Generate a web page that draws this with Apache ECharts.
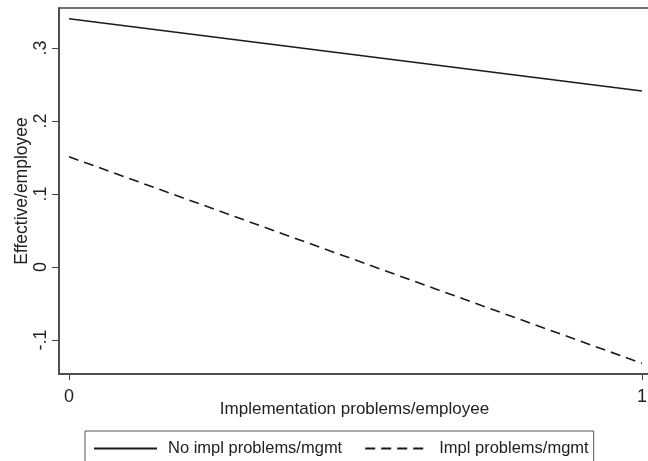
<!DOCTYPE html>
<html>
<head>
<meta charset="utf-8">
<script src="https://cdn.jsdelivr.net/npm/echarts@6/dist/echarts.min.js"></script>
<style>
  html, body { margin: 0; padding: 0; background: #fff; }
  #chart { width: 648px; height: 461px; }
</style>
</head>
<body>
<div id="chart"></div>
<script>
// x positions of the fitted lines
const xValues = [0, 1];
// series values
const noImplMgmt = [0.340, 0.241];
const implMgmt = [0.151, -0.132];
const seriesNames = ["No impl problems/mgmt", "Impl problems/mgmt"];
// tick labels
const yTicks = [-0.1, 0, 0.1, 0.2, 0.3];
const xTicks = [0, 1];

const fmtY = (v) => {
  if (Math.abs(v) < 1e-9) return "0";
  return (v < 0 ? "-" : "") + String(Math.abs(v).toFixed(1)).replace(/^0/, "");
};

let chart = echarts.init(document.getElementById("chart"));
const axisColor = "#444";
const font = "Liberation Sans, Arial, sans-serif";

chart.setOption({
  animation: false,
  grid: {
    left: 59,
    right: -2,
    top: 8,
    bottom: 87,
    outerBoundsMode: "none",
    show: true,
    borderColor: axisColor,
    borderWidth: 1.5,
  },
  legend: {
    left: 85,
    top: 431,
    padding: [9, 5, 12, 8],
    itemWidth: 63,
    itemHeight: 10,
    itemGap: 22,
    borderColor: "#555",
    borderWidth: 1,
    itemStyle: { opacity: 0 },
    textStyle: { fontFamily: font, fontSize: 16.5, color: "#222", padding: [0, 0, 0, 6] },
    data: seriesNames,
  },
  xAxis: {
    type: "value",
    min: -0.01745,
    max: 1.014,
    name: "Implementation problems/employee",
    nameLocation: "middle",
    nameGap: 27,
    nameMoveOverlap: false,
    nameTextStyle: { fontFamily: font, fontSize: 17, color: "#222" },
    axisLine: { show: true, onZero: false, lineStyle: { color: axisColor, width: 1.5 } },
    axisTick: { show: true, customValues: xTicks, length: 6, lineStyle: { color: axisColor } },
    axisLabel: {
      customValues: xTicks,
      fontFamily: font,
      fontSize: 18,
      color: "#222",
      margin: 14,
    },
    splitLine: { show: false },
  },
  yAxis: {
    type: "value",
    min: -0.1466,
    max: 0.3548,
    name: "Effective/employee",
    nameLocation: "middle",
    nameGap: 28,
    nameMoveOverlap: false,
    nameTextStyle: { fontFamily: font, fontSize: 17.5, color: "#222" },
    axisLine: { show: true, onZero: false, lineStyle: { color: axisColor, width: 1.5 } },
    axisTick: { show: true, customValues: yTicks, length: 7, lineStyle: { color: axisColor } },
    axisLabel: {
      customValues: yTicks,
      rotate: 90,
      fontFamily: font,
      fontSize: 18,
      color: "#222",
      margin: 9,
      formatter: fmtY,
    },
    splitLine: { show: false },
  },
  series: [
    {
      name: seriesNames[0],
      type: "line",
      data: xValues.map((x, i) => [x, noImplMgmt[i]]),
      symbol: "none",
      lineStyle: { color: "#1a1a1a", width: 1.6 },
      itemStyle: { color: "#1a1a1a" },
    },
    {
      name: seriesNames[1],
      type: "line",
      data: xValues.map((x, i) => [x, implMgmt[i]]),
      symbol: "none",
      lineStyle: { color: "#1a1a1a", width: 1.6, type: [10, 6] },
      itemStyle: { color: "#1a1a1a" },
    },
  ],
});
</script>
</body>
</html>
